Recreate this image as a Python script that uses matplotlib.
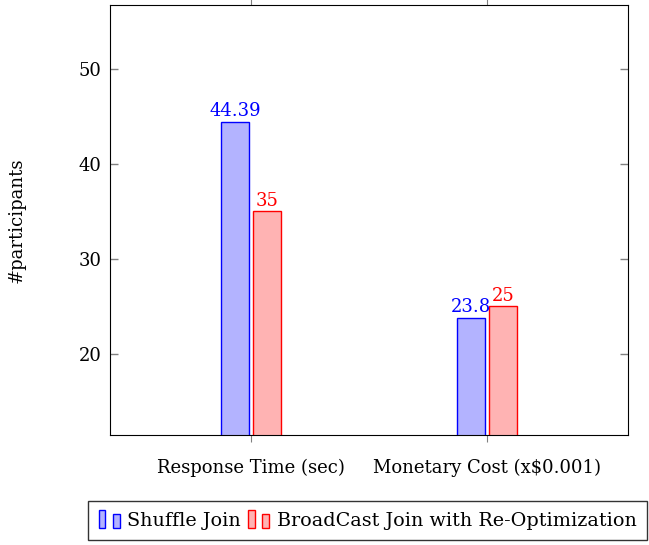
import matplotlib
matplotlib.use('Agg')
import matplotlib.pyplot as plt
from matplotlib.patches import Rectangle
from matplotlib.legend_handler import HandlerBase

categories = ['Response Time (sec)', 'Monetary Cost (x$0.001)']
shuffle = [44.39, 23.8]
broadcast = [35, 25]
shuffle_labels = ['44.39', '23.8']
broadcast_labels = ['35', '25']
series_names = ['Shuffle Join', 'BroadCast Join with Re-Optimization']

plt.rcParams['font.family'] = ['DejaVu Serif']
plt.rcParams['mathtext.default'] = 'regular'
FS = 13


class TwoBars(HandlerBase):
    def create_artists(self, legend, orig, xd, yd, w, h, fs, trans):
        p = orig.patches[0]
        fc = p.get_facecolor()
        ec = p.get_edgecolor()
        bw = w * 0.3
        r1 = Rectangle((xd, yd - h * 0.2), bw, h * 1.35, fc=fc, ec=ec, lw=1, transform=trans)
        r2 = Rectangle((xd + w * 0.62, yd - h * 0.2), bw, h * 1.05, fc=fc, ec=ec, lw=1, transform=trans)
        return [r1, r2]


fig = plt.figure(figsize=(6.49, 5.45), dpi=100)
ax = fig.add_axes([110 / 649, 1 - 435 / 545, 518 / 649, 430 / 545])

x = [0, 1]
bw = 0.119
off = 0.068
b1 = ax.bar([i - off for i in x], shuffle, bw, color='#b3b3ff', edgecolor='blue', lw=1,
            label=series_names[0])
b2 = ax.bar([i + off for i in x], broadcast, bw, color='#ffb3b3', edgecolor='red', lw=1,
            label=series_names[1])

for i in x:
    ax.text(i - off, shuffle[i] + 0.2, shuffle_labels[i], color='blue',
            ha='center', va='bottom', fontsize=FS)
    ax.text(i + off, broadcast[i] + 0.2, broadcast_labels[i], color='red',
            ha='center', va='bottom', fontsize=FS)

ax.set_xlim(-0.597, 1.597)
ax.set_ylim(11.47, 56.74)
ax.set_yticks([20, 30, 40, 50])
ax.set_xticks(x)
ax.set_xticklabels([c.replace('$', r'\$') for c in categories], fontsize=FS)
ax.tick_params(axis='y', direction='in', left=True, right=True, length=6, color='gray',
               labelsize=FS, width=1, pad=6)
ax.tick_params(axis='x', direction='out', top=True, bottom=True, length=5, color='gray',
               labelsize=FS, pad=12)
ax.set_ylabel('#participants', fontsize=FS, labelpad=38)

leg = fig.legend(handles=[b1, b2], labels=series_names, handler_map={b1: TwoBars(), b2: TwoBars()},
                 loc='center', bbox_to_anchor=(367.5 / 649, 1 - 520.5 / 545), ncol=2, fontsize=13.8,
                 frameon=True, fancybox=False, edgecolor='black', handlelength=1.2,
                 handletextpad=0.3, columnspacing=0.35, borderpad=0.55)
leg.get_frame().set_linewidth(1)

fig.savefig('out.png', dpi=100)
